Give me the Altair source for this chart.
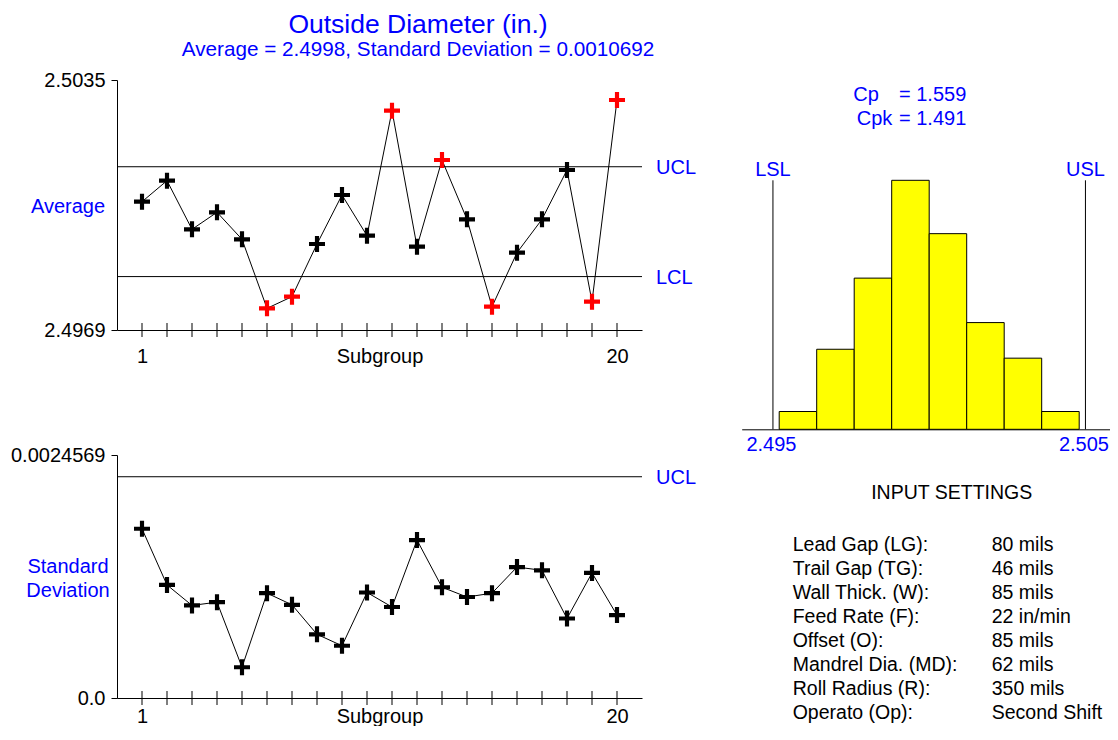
import altair as alt
import pandas as pd

# ---------------- data ----------------
subgroups = list(range(1, 21))
xbar_values = [2.500287, 2.500842, 2.499558, 2.500007, 2.499294, 2.497472, 2.497780, 2.499170, 2.500464, 2.499390,
               2.502690, 2.499100, 2.501388, 2.499822, 2.497516, 2.498942, 2.499822, 2.501124, 2.497648, 2.502972]
sd_values = [0.001711, 0.001143, 0.000936, 0.000969, 0.000311, 0.001060, 0.000942, 0.000644, 0.000528, 0.001067,
             0.000920, 0.001597, 0.001120, 0.001021, 0.001060, 0.001324, 0.001291, 0.000804, 0.001265, 0.000838]
xbar_limit_names = ["UCL", "LCL"]
xbar_limit_levels = [2.50121, 2.49831]
sd_limit_names = ["UCL"]
sd_limit_levels = [0.002237]
xbar_axis_values = [2.4969, 2.5035]
sd_axis_values = [0.0, 0.0024569]
subgroup_labels = [1, 20]
subgroup_domain = [0, 21]

bin_starts = [2.4952, 2.4964, 2.4976, 2.4988, 2.5000, 2.5012, 2.5024, 2.5036]
bin_ends = [2.4964, 2.4976, 2.4988, 2.5000, 2.5012, 2.5024, 2.5036, 2.5048]
bin_counts = [2, 9, 17, 28, 22, 12, 8, 2]
hist_domain = [2.494, 2.506]
spec_limits = [2.495, 2.505]
spec_names = ["LSL", "USL"]

cap_names = ["Cp", "Cpk"]
cap_values = ["= 1.559", "= 1.491"]

settings_title = "INPUT SETTINGS"
setting_names = ["Lead Gap (LG):", "Trail Gap (TG):", "Wall Thick. (W):", "Feed Rate (F):",
                 "Offset (O):", "Mandrel Dia. (MD):", "Roll Radius (R):", "Operato (Op):"]
setting_values = ["80 mils", "46 mils", "85 mils", "22 in/min", "85 mils", "62 mils", "350 mils", "Second Shift"]

title_text = "Outside Diameter (in.)"
subtitle_text = "Average = 2.4998, Standard Deviation = 0.0010692"
xbar_label = ["Average"]
sd_label = ["Standard", "Deviation"]

# ---------------- layout / style ----------------
W, H = 1102, 718
BLUE = "#0000FF"
RED = "#FF0000"
FONT = "Liberation Sans"
CROSS = "M-1,-0.26H-0.26V-1H0.26V-0.26H1V0.26H0.26V1H-0.26V0.26H-1Z"

CH_LEFT, CH_RIGHT = 109, 634
XB_TOP, XB_BOT = 72, 322
SD_TOP, SD_BOT = 447, 690
H_LEFT, H_RIGHT = 733.7, 1108.7
H_TOP, H_BOT = 172.3, 421.3


def sg_scale():
    return alt.Scale(domain=subgroup_domain, range=[CH_LEFT, CH_RIGHT], nice=False, zero=False)


def subgroup_axis(axis_y, pad):
    return alt.Axis(orient="bottom", offset=axis_y - H, values=subgroup_labels, format="d",
                    ticks=False, grid=False, labelPadding=pad, labelBaseline="alphabetic",
                    labelFlush=False, labelOverlap=False, title="Subgroup", titleY=pad,
                    titleBaseline="alphabetic")


def text_chart(txt, x, y, size=20, color=BLUE, align="center"):
    return alt.Chart(pd.DataFrame({"t": [txt]})).mark_text(
        font=FONT, fontSize=size, color=color, align=align, baseline="alphabetic"
    ).encode(x=alt.value(x), y=alt.value(y), text="t:N")


layers = []

# ---------------- X-bar chart ----------------
xb_scale = lambda: alt.Scale(domain=xbar_axis_values, range=[XB_BOT, XB_TOP], nice=False, zero=False)
xb_y_axis = alt.Axis(orient="left", offset=-CH_LEFT, values=xbar_axis_values, format=".4f",
                     tickSize=6, grid=False, labelPadding=6, labelFlush=False, labelOverlap=False,
                     title=None)
df_xbar = pd.DataFrame({"subgroup": subgroups, "value": xbar_values})
df_xbar["status"] = ["out" if (v > max(xbar_limit_levels) or v < min(xbar_limit_levels)) else "in"
                     for v in xbar_values]
df_xlim = pd.DataFrame({"name": xbar_limit_names, "level": xbar_limit_levels})

layers.append(alt.Chart(df_xlim).mark_rule(color="black", strokeWidth=1).encode(
    x=alt.XDatum(subgroup_domain[0], type="quantitative", scale=sg_scale(), axis=None),
    x2=alt.X2Datum(subgroup_domain[1]),
    y=alt.Y("level:Q", scale=xb_scale(), axis=None),
))
layers.append(alt.Chart(df_xbar).mark_line(color="black", strokeWidth=1).encode(
    x=alt.X("subgroup:Q", scale=sg_scale(), axis=subgroup_axis(XB_BOT, 32)),
    y=alt.Y("value:Q", scale=xb_scale(), axis=xb_y_axis),
))
layers.append(alt.Chart(df_xbar).mark_tick(orient="vertical", size=14, thickness=1, color="black", opacity=1).encode(
    x=alt.X("subgroup:Q", scale=sg_scale(), axis=None),
    y=alt.YDatum(xbar_axis_values[0], type="quantitative", scale=xb_scale(), axis=None),
))
layers.append(alt.Chart(df_xbar).mark_point(shape=CROSS, size=256, filled=True, strokeWidth=0, opacity=1).encode(
    x=alt.X("subgroup:Q", scale=sg_scale(), axis=None),
    y=alt.Y("value:Q", scale=xb_scale(), axis=None),
    color=alt.Color("status:N", scale=alt.Scale(domain=["in", "out"], range=["black", RED]), legend=None),
))
layers.append(alt.Chart(df_xlim).mark_text(font=FONT, fontSize=20, color=BLUE, align="left",
                                           baseline="middle", dx=14, dy=1).encode(
    x=alt.XDatum(subgroup_domain[1], type="quantitative", scale=sg_scale(), axis=None),
    y=alt.Y("level:Q", scale=xb_scale(), axis=None),
    text="name:N",
))

# ---------------- S chart ----------------
sd_scale = lambda: alt.Scale(domain=sd_axis_values, range=[SD_BOT, SD_TOP], nice=False, zero=False)
sd_y_axis = alt.Axis(orient="left", offset=-CH_LEFT, values=sd_axis_values,
                     labelExpr="datum.value == 0 ? '0.0' : format(datum.value, '.7f')",
                     tickSize=6, grid=False, labelPadding=6, labelFlush=False, labelOverlap=False,
                     title=None)
df_sd = pd.DataFrame({"subgroup": subgroups, "value": sd_values})
df_slim = pd.DataFrame({"name": sd_limit_names, "level": sd_limit_levels})

layers.append(alt.Chart(df_slim).mark_rule(color="black", strokeWidth=1).encode(
    x=alt.XDatum(subgroup_domain[0], type="quantitative", scale=sg_scale(), axis=None),
    x2=alt.X2Datum(subgroup_domain[1]),
    y=alt.Y("level:Q", scale=sd_scale(), axis=None),
))
layers.append(alt.Chart(df_sd).mark_line(color="black", strokeWidth=1).encode(
    x=alt.X("subgroup:Q", scale=sg_scale(), axis=subgroup_axis(SD_BOT, 24)),
    y=alt.Y("value:Q", scale=sd_scale(), axis=sd_y_axis),
))
layers.append(alt.Chart(df_sd).mark_tick(orient="vertical", size=14, thickness=1, color="black", opacity=1).encode(
    x=alt.X("subgroup:Q", scale=sg_scale(), axis=None),
    y=alt.YDatum(sd_axis_values[0], type="quantitative", scale=sd_scale(), axis=None),
))
layers.append(alt.Chart(df_sd).mark_point(shape=CROSS, size=256, filled=True, strokeWidth=0, opacity=1,
                                          color="black").encode(
    x=alt.X("subgroup:Q", scale=sg_scale(), axis=None),
    y=alt.Y("value:Q", scale=sd_scale(), axis=None),
))
layers.append(alt.Chart(df_slim).mark_text(font=FONT, fontSize=20, color=BLUE, align="left",
                                           baseline="middle", dx=14, dy=1).encode(
    x=alt.XDatum(subgroup_domain[1], type="quantitative", scale=sg_scale(), axis=None),
    y=alt.Y("level:Q", scale=sd_scale(), axis=None),
    text="name:N",
))

# ---------------- histogram ----------------
hx_scale = lambda: alt.Scale(domain=hist_domain, range=[H_LEFT, H_RIGHT], nice=False, zero=False)
hy_scale = lambda: alt.Scale(domain=[0, max(bin_counts)], range=[H_BOT, H_TOP], nice=False, zero=False)
hist_axis = alt.Axis(orient="bottom", offset=H_BOT - H, values=spec_limits, format=".3f", ticks=False,
                     grid=False, labelPadding=21, labelBaseline="alphabetic", labelColor=BLUE,
                     labelFlush=False, labelOverlap=False, labelOffset=-2, title=None)
df_hist = pd.DataFrame({"start": bin_starts, "end": bin_ends, "count": bin_counts})
df_spec = pd.DataFrame({"limit": spec_limits, "name": spec_names})

layers.append(alt.Chart(df_hist).mark_rect(fill="#FFFF00", stroke="black", strokeWidth=1).encode(
    x=alt.X("start:Q", scale=hx_scale(), axis=hist_axis),
    x2="end:Q",
    y=alt.Y("count:Q", scale=hy_scale(), axis=None),
    y2=alt.Y2Datum(0),
))
layers.append(alt.Chart(df_spec).mark_rule(color="black", strokeWidth=1).encode(
    x=alt.X("limit:Q", scale=hx_scale(), axis=None),
    y=alt.YDatum(0, type="quantitative", scale=hy_scale(), axis=None),
    y2=alt.Y2Datum(max(bin_counts)),
))
layers.append(alt.Chart(df_spec).mark_text(font=FONT, fontSize=20, color=BLUE, align="center",
                                           baseline="alphabetic", dy=-4).encode(
    x=alt.X("limit:Q", scale=hx_scale(), axis=None),
    y=alt.YDatum(max(bin_counts), type="quantitative", scale=hy_scale(), axis=None),
    text="name:N",
))

# ---------------- input settings ----------------
df_set = pd.DataFrame({"row": list(range(len(setting_names))), "name": setting_names, "val": setting_values})
row_scale = lambda: alt.Scale(domain=[0, len(setting_names) - 1], range=[543, 711], nice=False, zero=False)
layers.append(alt.Chart(df_set).mark_text(font=FONT, fontSize=19.5, color="black", align="left",
                                          baseline="alphabetic").encode(
    x=alt.value(784.7), y=alt.Y("row:Q", scale=row_scale(), axis=None), text="name:N"))
layers.append(alt.Chart(df_set).mark_text(font=FONT, fontSize=19.5, color="black", align="left",
                                          baseline="alphabetic").encode(
    x=alt.value(983.7), y=alt.Y("row:Q", scale=row_scale(), axis=None), text="val:N"))

# ---------------- free text ----------------
layers += [
    text_chart(title_text, 410, 25, size=26.5),
    text_chart(subtitle_text, 410, 48, size=20.7),
    text_chart(xbar_label[0], 60, 205),
    text_chart(sd_label[0], 60, 565),
    text_chart(sd_label[1], 60, 589.3),
    text_chart(cap_names[0], 845.3, 93, align="left"),
    text_chart(cap_values[0], 891, 93, align="left"),
    text_chart(cap_names[1], 848.7, 117, align="left"),
    text_chart(cap_values[1], 891, 117, align="left"),
    text_chart(settings_title, 943.7, 491, size=19.5, color="black"),
]

chart = alt.layer(*layers).resolve_scale(
    x="independent", y="independent"
).properties(
    width=W, height=H, padding=0, background="white",
    autosize=alt.AutoSizeParams(type="none"),
).configure_view(strokeWidth=0).configure_axis(
    labelFont=FONT, labelFontSize=20, labelColor="black",
    titleFont=FONT, titleFontSize=20, titleFontWeight="normal", titleColor="black",
    domainColor="black", domainWidth=1, tickColor="black", tickWidth=1, grid=False,
)

chart.save("out.html", embed_options={"renderer": "svg", "actions": False})
